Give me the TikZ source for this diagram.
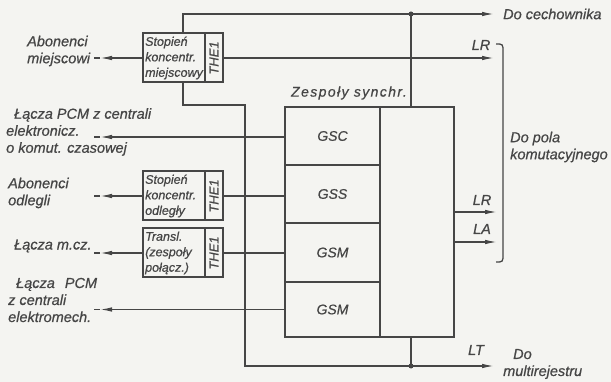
\documentclass[tikz,border=0pt]{standalone}
\usepackage{fontspec}
\setmainfont{Liberation Sans}[FakeBold=0.6]
\usepackage{graphicx}
\usetikzlibrary{arrows.meta, calc}

\definecolor{ink}{RGB}{70,70,70}
\definecolor{paper}{RGB}{244,244,241}

\tikzset{
  lbl/.style={font=\itshape\fontsize{14.5}{17}\selectfont, text=ink, inner sep=0pt, align=left},
  blk/.style={draw=ink, line width=2pt, minimum width=80pt, minimum height=49pt, inner sep=0pt},
  thebox/.style={draw=ink, line width=2pt, minimum width=18pt, minimum height=49pt, inner sep=0pt, font=\itshape\fontsize{13}{13}\selectfont, text=ink},
  blktxt/.style={font=\itshape\fontsize{12.5}{15.5}\selectfont, text=ink, inner sep=0pt, align=left},
  sync/.style={draw=ink, line width=2pt, minimum width=95pt, inner sep=0pt, font=\itshape\fontsize{14}{14}\selectfont, text=ink},
  wire/.style={ink, line width=1.3pt},
  arr/.style={wire, -{Latex[length=12pt,width=4.5pt]}},
}

\begin{document}
\begin{tikzpicture}[x=1pt, y=-1pt]
    % Paper
    \fill[paper] (0,0) rectangle (611,382);
    \useasboundingbox (0,0) rectangle (611,382);
    % Concentrators and translator
    \node[blk] (blkM) at (183,58) {};
    \node[thebox, anchor=east] (theM) at (blkM.east) {\rotatebox{90}{THE1}};
    \node[blktxt, anchor=west] (txtM) at ($(blkM.west)+(3,0)$) {Stopień\\koncentr.\\miejscowy};
    \node[blk] (blkS) at (183,196) {};
    \node[thebox, anchor=east] (theS) at (blkS.east) {\rotatebox{90}{THE1}};
    \node[blktxt, anchor=west] (txtS) at ($(blkS.west)+(3,0)$) {Stopień\\koncentr.\\odległy};
    \node[blk] (blkT) at (183,253) {};
    \node[thebox, anchor=east] (theT) at (blkT.east) {\rotatebox{90}{THE1}};
    \node[blktxt, anchor=west] (txtT) at ($(blkT.west)+(3,0)$) {Transl.\\(zespoły\\połącz.)};
    % Synchronizer units
    \node[lbl, font=\itshape\fontsize{14}{17}\selectfont\addfontfeatures{LetterSpace=10}] (zesp) at (349,93) {Zespoły synchr.};
    \node[sync, minimum height=58pt] (gsc) at (332.5,136) {GSC};
    \node[sync, minimum height=58pt] (gss) at (332.5,194) {GSS};
    \node[sync, minimum height=59pt] (gsm1) at (332.5,252.5) {GSM};
    \node[sync, minimum height=55pt] (gsm2) at (332.5,309.5) {GSM};
    \node[draw=ink, line width=2pt, minimum width=74pt, minimum height=230pt] (synR) at (417,222) {};
    % Free ends
    \coordinate (inM) at (100,58);
    \coordinate (inP1) at (100,137);
    \coordinate (inS) at (100,196);
    \coordinate (inT) at (100,253);
    \coordinate (inP2) at (100,309.5);
    \coordinate (outC) at (494,14);
    \coordinate (outR) at (497,212);
    \coordinate (outA) at (497,242);
    \coordinate (outT) at (494,366);
    \coordinate (bend) at (245,105);
    \coordinate (jT) at (411,14);
    \coordinate (jB) at (411,366);
    % Inputs
    \foreach \n in {inM,inP1,inS,inT,inP2} \draw[wire] (\n) -- ++(-6,0);
    \draw[arr] (blkM.west) -- (inM);
    \draw[arr] (gsc.west |- inP1) -- (inP1);
    \draw[arr] (blkS.west) -- (inS);
    \draw[arr] (blkT.west) -- (inT);
    \draw[arr] (gsm2.west) -- (inP2);
    \draw[wire] (theS.east) -- (theS.east -| gss.west);
    \draw[wire] (theT.east) -- (theT.east -| gsm1.west);
    % Outputs
    \draw[arr] (blkM.north) |- (outC);
    \draw[arr] (theM.east) -- (theM.east -| outC);
    \draw[arr] (blkM.south) |- (bend) |- (outT);
    \draw[wire] (jT) -- (jT |- synR.north);
    \draw[wire] (jB |- synR.south) -- (jB);
    \fill[ink] (jT) circle (2.5pt);
    \fill[ink] (jB) circle (2.5pt);
    \draw[arr] (synR.east |- outR) -- (outR);
    \draw[arr] (synR.east |- outA) -- (outA);
    % Bracket
    \draw[wire] (496,44) .. controls (503,44) .. (503,52) -- (503,254) .. controls (503,262) .. (496,262);
    % Labels
    \node[lbl, anchor=west] (abM) at (27,51) {Abonenci\\miejscowi};
    \node[lbl, anchor=west] (pcmE) at (6,132) {\hspace{8pt}Łącza PCM z centrali\\elektronicz.\\o komut. czasowej};
    \node[lbl, anchor=west] (abO) at (8,193) {Abonenci\\odlegli};
    \node[lbl, anchor=west] (mcz) at (14,246) {Łącza m.cz.};
    \node[lbl, anchor=west] (pcmM) at (8,300) {\hspace{8pt}Łącza\hspace{10pt}PCM\\z centrali\\elektromech.};
    \node[lbl, anchor=west] (cech) at (503,14) {Do cechownika};
    \node[lbl] (lr1) at (481,45) {LR};
    \node[lbl, anchor=west] (pola) at (510,147) {Do pola\\komutacyjnego};
    \node[lbl] (lr2) at (482,200) {LR};
    \node[lbl] (la) at (482,229) {LA};
    \node[lbl] (lt) at (476,350) {LT};
    \node[lbl, anchor=west] (multi) at (503,364) {\hspace{10pt}Do\\multirejestru};
\end{tikzpicture}
\end{document}
